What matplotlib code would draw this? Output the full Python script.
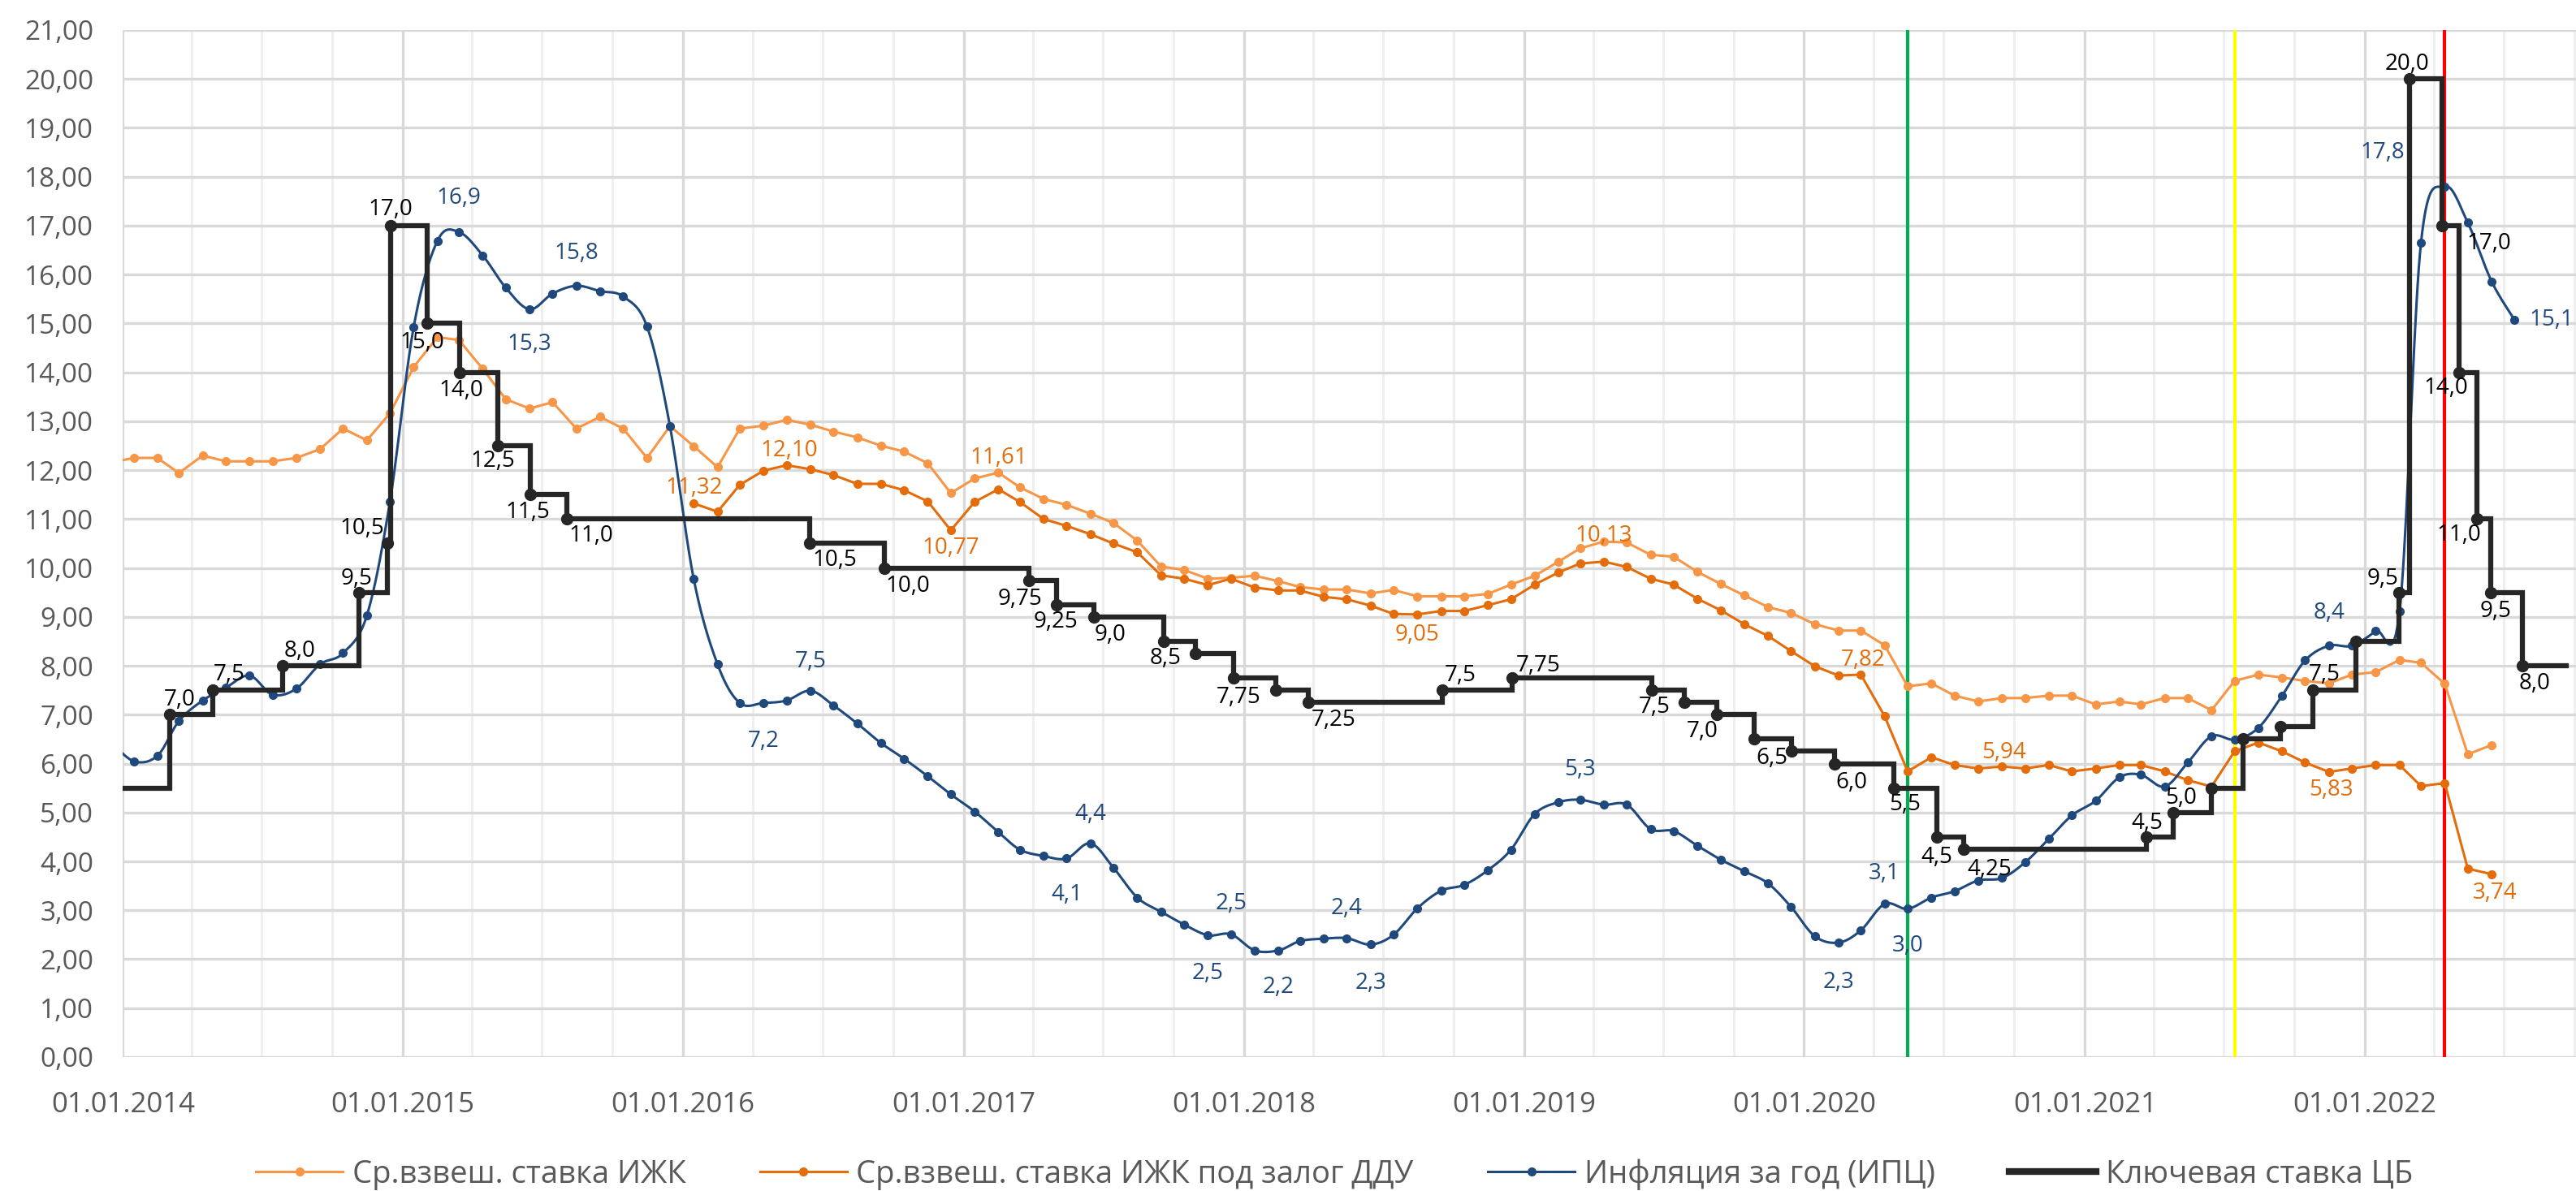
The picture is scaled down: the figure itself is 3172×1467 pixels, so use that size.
import numpy as np
import pandas as pd
import matplotlib
matplotlib.use("Agg")
import matplotlib.pyplot as plt
import matplotlib.dates as mdates
from matplotlib.lines import Line2D
from matplotlib.ticker import FuncFormatter, MultipleLocator

plt.rcParams["font.family"] = ["Open Sans", "DejaVu Sans"]

# monthly series (points sit in the middle of the month)
ijk_start = "2013-12"
ijk = [12.15,
       12.25, 12.25, 11.94, 12.30, 12.18, 12.18, 12.18, 12.25, 12.43, 12.85, 12.61, 13.16,
       14.11, 14.72, 14.66, 14.07, 13.45, 13.26, 13.39, 12.85, 13.09, 12.85, 12.25, 12.90,
       12.49, 12.06, 12.85, 12.91, 13.03, 12.93, 12.79, 12.67, 12.50, 12.38, 12.14, 11.53,
       11.83, 11.95, 11.65, 11.41, 11.29, 11.11, 10.92, 10.56, 10.03, 9.96, 9.78, 9.80,
       9.84, 9.73, 9.61, 9.56, 9.56, 9.48, 9.55, 9.42, 9.42, 9.42, 9.47, 9.66,
       9.84, 10.13, 10.40, 10.54, 10.52, 10.27, 10.23, 9.92, 9.67, 9.44, 9.20, 9.08,
       8.85, 8.72, 8.72, 8.42, 7.58, 7.64, 7.39, 7.27, 7.34, 7.34, 7.39, 7.39,
       7.21, 7.27, 7.21, 7.34, 7.34, 7.09, 7.69, 7.82, 7.76, 7.69, 7.64, 7.82,
       7.87, 8.12, 8.06, 7.63, 6.19, 6.38]

ddu_start = "2016-01"
ddu = [11.32, 11.15, 11.70, 11.99, 12.10, 12.02, 11.90, 11.72, 11.72, 11.59, 11.36, 10.77,
       11.35, 11.61, 11.35, 11.00, 10.86, 10.69, 10.50, 10.32, 9.85, 9.78, 9.65, 9.78,
       9.60, 9.54, 9.54, 9.41, 9.36, 9.23, 9.06, 9.05, 9.12, 9.12, 9.24, 9.36,
       9.66, 9.91, 10.09, 10.13, 10.02, 9.78, 9.66, 9.37, 9.13, 8.85, 8.61, 8.30,
       7.99, 7.80, 7.82, 6.97, 5.84, 6.13, 5.97, 5.90, 5.94, 5.90, 5.97, 5.84,
       5.90, 5.97, 5.97, 5.84, 5.66, 5.53, 6.25, 6.43, 6.25, 6.02, 5.83, 5.90,
       5.97, 5.97, 5.54, 5.60, 3.85, 3.74]

cpi_start = "2013-12"
cpi = [6.47,
       6.05, 6.16, 6.87, 7.29, 7.55, 7.80, 7.41, 7.53, 8.03, 8.26, 9.03, 11.35,
       14.93, 16.69, 16.87, 16.39, 15.73, 15.29, 15.61, 15.77, 15.66, 15.55, 14.94, 12.90,
       9.77, 8.03, 7.24, 7.24, 7.29, 7.49, 7.19, 6.82, 6.42, 6.10, 5.74, 5.37,
       5.02, 4.60, 4.24, 4.11, 4.06, 4.37, 3.87, 3.26, 2.97, 2.71, 2.49, 2.51,
       2.18, 2.18, 2.37, 2.42, 2.43, 2.30, 2.50, 3.04, 3.40, 3.52, 3.82, 4.24,
       4.97, 5.21, 5.26, 5.16, 5.16, 4.66, 4.62, 4.32, 4.03, 3.80, 3.55, 3.07,
       2.47, 2.34, 2.59, 3.13, 3.03, 3.26, 3.39, 3.61, 3.66, 3.98, 4.46, 4.94,
       5.24, 5.72, 5.77, 5.53, 6.02, 6.56, 6.49, 6.73, 7.39, 8.11, 8.41, 8.41,
       8.71, 9.11, 16.65, 17.80, 17.06, 15.86, 15.07]

# key rate of the central bank, date of each change
key_dates = ["2013-09-13", "2014-03-03", "2014-04-28", "2014-07-28", "2014-11-05", "2014-12-12",
             "2014-12-16", "2015-02-02", "2015-03-16", "2015-05-05", "2015-06-16", "2015-08-03",
             "2016-06-14", "2016-09-19", "2017-03-27", "2017-05-02", "2017-06-19", "2017-09-18",
             "2017-10-30", "2017-12-18", "2018-02-12", "2018-03-26", "2018-09-17", "2018-12-17",
             "2019-06-17", "2019-07-29", "2019-09-09", "2019-10-28", "2019-12-16", "2020-02-10",
             "2020-04-27", "2020-06-22", "2020-07-27", "2021-03-22", "2021-04-26", "2021-06-15",
             "2021-07-26", "2021-09-13", "2021-10-25", "2021-12-20", "2022-02-14", "2022-02-28",
             "2022-04-11", "2022-05-04", "2022-05-27", "2022-06-14", "2022-07-25"]
key_rates = [5.5, 7.0, 7.5, 8.0, 9.5, 10.5,
             17.0, 15.0, 14.0, 12.5, 11.5, 11.0,
             10.5, 10.0, 9.75, 9.25, 9.0, 8.5,
             8.25, 7.75, 7.5, 7.25, 7.5, 7.75,
             7.5, 7.25, 7.0, 6.5, 6.25, 6.0,
             5.5, 4.5, 4.25, 4.5, 5.0, 5.5,
             6.5, 6.75, 7.5, 8.5, 9.5, 20.0,
             17.0, 14.0, 11.0, 9.5, 8.0]
key_end = "2022-09-20"

# vertical marker lines (months)
event_months = ["2020-05", "2021-07", "2022-04"]
event_colors = ["#00B050", "#FFFF00", "#FF0000"]

legend_names = ["Ср.взвеш. ставка ИЖК", "Ср.взвеш. ставка ИЖК под залог ДДУ",
                "Инфляция за год (ИПЦ)", "Ключевая ставка ЦБ"]

# data labels: (month or date, dx pt, dy pt)
cpi_labels = [("2015-03", 0, 30), ("2015-06", 0, -31), ("2015-08", 0, 29), ("2016-06", 0, 26),
              ("2016-04", 0, -34), ("2017-05", 0, -32), ("2017-06", 0, 26), ("2017-11", 0, -34),
              ("2017-12", 0, 27), ("2018-02", 0, -33), ("2018-05", 0, 26), ("2018-06", 0, -34),
              ("2019-03", 0, 27), ("2020-02", 0, -35), ("2020-04", 0, 27), ("2020-05", 0, -33),
              ("2021-11", 0, 29), ("2022-04", -55, 30), ("2022-07", 33, 0)]
ddu_labels = [("2016-01", 0, 14), ("2016-05", 2, 13), ("2016-12", 0, -16), ("2017-02", 0, 28),
              ("2018-08", 0, -18), ("2019-04", 0, 23), ("2020-03", 2, 13), ("2020-09", 2, 12),
              ("2021-11", 2, -16), ("2022-06", 3, -17)]
key_labels = [("2014-03-03", 9, 13), ("2014-04-28", 15, 14), ("2014-07-28", 15, 13),
              ("2014-11-05", -2, 12), ("2014-12-12", -23, 13), ("2014-12-16", 0, 14),
              ("2015-02-02", -5, -17), ("2015-03-16", 1, -16), ("2015-05-05", -5, -14),
              ("2015-06-16", -2, -16), ("2015-08-03", 21, -15), ("2016-06-14", 22, -15),
              ("2016-09-19", 21, -16), ("2017-03-27", -8, -17), ("2017-05-02", -1, -15),
              ("2017-06-19", 15, -16), ("2017-09-18", 2, -15), ("2017-12-18", 5, -17),
              ("2018-03-26", 22, -16), ("2018-09-17", 16, 13), ("2018-12-17", 23, 11),
              ("2019-06-17", 2, -15), ("2019-09-09", -13, -15), ("2019-10-28", 16, -17),
              ("2020-02-10", 15, -17), ("2020-04-27", 10, -15), ("2020-06-22", 0, -18),
              ("2020-07-27", 23, -18), ("2021-03-22", 1, 12), ("2021-04-26", 7, 13),
              ("2021-10-25", 10, 14), ("2022-02-14", -14, 12), ("2022-02-28", -2, 13),
              ("2022-04-11", 42, -16), ("2022-05-04", -12, -14), ("2022-05-27", -16, -14),
              ("2022-06-14", 4, -17), ("2022-07-25", 11, -16)]

C_IJK = "#F79646"
C_DDU = "#E46C0A"
C_CPI = "#1F497D"
C_KEY = "#262626"
C_TXT = "#595959"


def monthly(start, n):
    return pd.date_range(start + "-01", periods=n, freq="MS") + pd.Timedelta(days=14)


def smooth(x, y, steps=20):
    # Catmull-Rom spline, close to Excel's "smoothed line"
    px = np.concatenate([[x[0]], x, [x[-1]]])
    py = np.concatenate([[y[0]], y, [y[-1]]])
    t = np.linspace(0, 1, steps, endpoint=False)
    outx, outy = [], []
    for i in range(1, len(px) - 2):
        for p, out in ((px, outx), (py, outy)):
            p0, p1, p2, p3 = p[i - 1], p[i], p[i + 1], p[i + 2]
            out.extend(0.5 * (2 * p1 + (-p0 + p2) * t + (2 * p0 - 5 * p1 + 4 * p2 - p3) * t ** 2
                              + (-p0 + 3 * p1 - 3 * p2 + p3) * t ** 3))
    outx.append(x[-1])
    outy.append(y[-1])
    return np.array(outx), np.array(outy)


def fmt(v, nd):
    return f"{v:.{nd}f}".replace(".", ",")


ijk_x = monthly(ijk_start, len(ijk))
ddu_x = monthly(ddu_start, len(ddu))
cpi_x = monthly(cpi_start, len(cpi))
key_x = pd.to_datetime(key_dates)

fig = plt.figure(figsize=(31.72, 14.67), dpi=100)
ax = fig.add_axes([0.0477, 0.1125, 0.9523, 0.8623])

x0 = pd.Timestamp("2014-01-01")
x1 = pd.Timestamp("2022-10-03")
ax.set_xlim(x0, x1)
ax.set_ylim(0, 21)

# grid
ax.xaxis.set_major_locator(mdates.YearLocator())
ax.xaxis.set_minor_locator(mdates.MonthLocator(bymonth=[4, 7, 10]))
ax.xaxis.set_major_formatter(mdates.DateFormatter("%d.%m.%Y"))
ax.yaxis.set_major_locator(MultipleLocator(1))
ax.yaxis.set_major_formatter(FuncFormatter(lambda v, p: fmt(v, 2)))
ax.grid(True, which="major", axis="both", color="#D9D9D9", lw=2.4, zorder=0)
ax.grid(True, which="minor", axis="x", color="#EFEFEF", lw=2.2, zorder=0)
ax.set_axisbelow(True)
for s in ax.spines.values():
    s.set_visible(False)
ax.tick_params(axis="both", which="both", length=0, colors=C_TXT)
ax.tick_params(axis="y", labelsize=24, pad=26)
ax.tick_params(axis="x", labelsize=25, pad=30)

# event lines
for m, c in zip(event_months, event_colors):
    ax.axvline(monthly(m, 1)[0], color=c, lw=3, zorder=1)

ax.plot(ijk_x, ijk, color=C_IJK, lw=2.2, marker="o", ms=7, zorder=3)
ax.plot(ddu_x, ddu, color=C_DDU, lw=2.2, marker="o", ms=7, zorder=3)

sx, sy = smooth(mdates.date2num(cpi_x), np.array(cpi))
ax.plot(sx, sy, color=C_CPI, lw=2.2, zorder=4)
ax.plot(cpi_x, cpi, ls="none", marker="o", ms=7, color=C_CPI, zorder=4)

step_x = list(key_x) + [pd.Timestamp(key_end)]
step_y = list(key_rates) + [key_rates[-1]]
ax.step(step_x, step_y, where="post", color=C_KEY, lw=4.5, zorder=5, solid_joinstyle="miter")
ax.plot(key_x, key_rates, ls="none", marker="o", ms=10, color=C_KEY, zorder=5)

# data labels
for m, dx, dy in cpi_labels:
    i = list(cpi_x.strftime("%Y-%m")).index(m)
    ax.annotate(fmt(cpi[i], 1), (cpi_x[i], cpi[i]), xytext=(dx, dy), textcoords="offset points",
                ha="center", va="center", fontsize=20, color=C_CPI, zorder=7)
for m, dx, dy in ddu_labels:
    i = list(ddu_x.strftime("%Y-%m")).index(m)
    ax.annotate(fmt(ddu[i], 2), (ddu_x[i], ddu[i]), xytext=(dx, dy), textcoords="offset points",
                ha="center", va="center", fontsize=20, color=C_DDU, zorder=7)
for d, dx, dy in key_labels:
    i = key_dates.index(d)
    v = key_rates[i]
    nd = 1 if abs(v * 10 - round(v * 10)) < 1e-9 else 2
    ax.annotate(fmt(v, nd), (key_x[i], v), xytext=(dx, dy), textcoords="offset points",
                ha="center", va="center", fontsize=20, color="black", zorder=7)

handles = [Line2D([], [], color=C_IJK, lw=2.2, marker="o", ms=7),
           Line2D([], [], color=C_DDU, lw=2.2, marker="o", ms=7),
           Line2D([], [], color=C_CPI, lw=2.2, marker="o", ms=7),
           Line2D([], [], color=C_KEY, lw=6)]
fig.legend(handles, legend_names, loc="center", bbox_to_anchor=(0.518, 0.014), ncol=4,
           frameon=False, fontsize=27.5, handlelength=2.8, handletextpad=0.3, columnspacing=2.4,
           labelcolor=C_TXT)

fig.savefig("out.png", dpi=100)
